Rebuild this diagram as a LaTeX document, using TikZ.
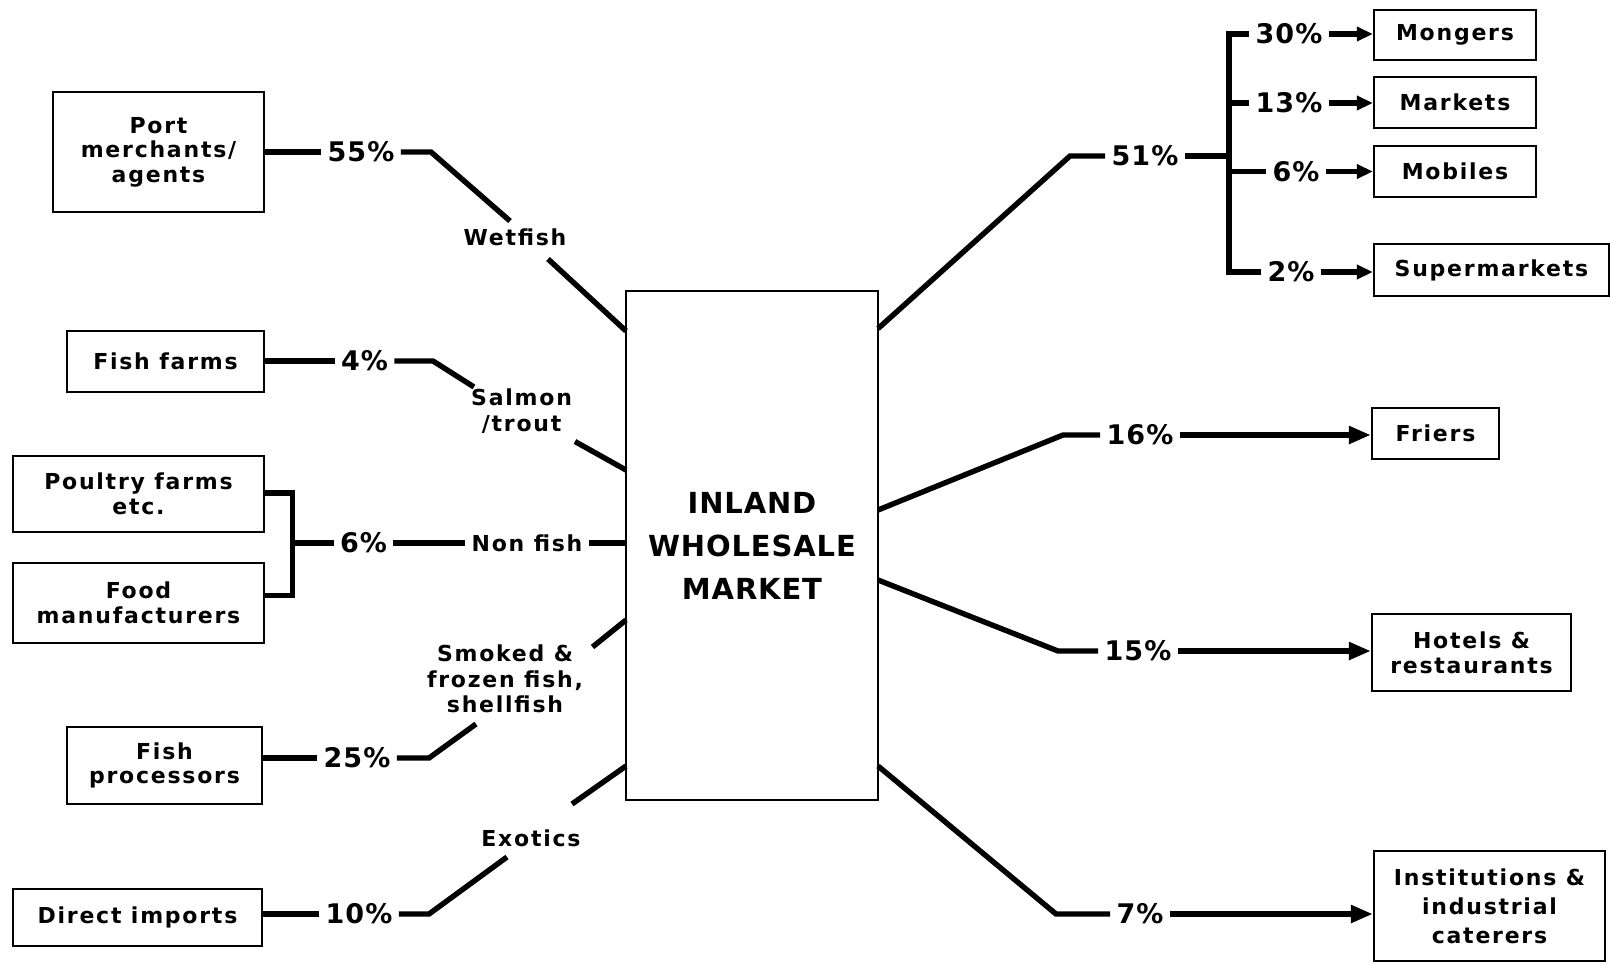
\documentclass[tikz,border=0pt]{standalone}
\usepackage{fontspec}
\setmainfont{DejaVu Sans}[LetterSpace=8]
\newfontfamily\pctfont{DejaVu Sans}[LetterSpace=4]
\newfontfamily\bigfont{DejaVu Sans}[LetterSpace=3]
\usetikzlibrary{arrows.meta}
\begin{document}
\begin{tikzpicture}[x=0.5pt,y=-0.5pt,
  box/.style={draw, line width=1.2pt, inner sep=0pt, align=center, font=\bfseries\fontsize{11}{12.3}\selectfont},
  pct/.style={inner sep=3pt, font=\pctfont\bfseries\fontsize{13.5}{14}\selectfont},
  lbl/.style={inner sep=3pt, align=center, font=\bfseries\fontsize{11}{12.8}\selectfont},
  conn/.style={line width=2.7pt},
  arr/.style={line width=2.7pt, -{Triangle[length=11pt,width=8.5pt]}},
  sarr/.style={line width=2.7pt, -{Triangle[length=8pt,width=7pt]}},
]
\useasboundingbox (0,0) rectangle (1610,964);

% ---- boxes, left
\node[box, minimum width=105.5pt, minimum height=60pt] (port) at (158.5,152) {Port\\merchants/\\agents};
\node[box, minimum width=98.5pt, minimum height=30.5pt] (ff) at (165.5,361.5) {Fish farms};
\node[box, minimum width=125.5pt, minimum height=38pt] (poultry) at (138.5,494) {Poultry farms\\etc.};
\node[box, minimum width=125.5pt, minimum height=40pt] (food) at (138.5,603) {Food\\manufacturers};
\node[box, minimum width=97.5pt, minimum height=38.5pt] (fp) at (164.5,765.5) {Fish\\processors};
\node[box, minimum width=124.5pt, minimum height=28.5pt] (di) at (137.5,917.5) {Direct imports};

% ---- central
\node[box, minimum width=126pt, minimum height=254.5pt, font=\bigfont\bfseries\fontsize{14.5}{21.5}\selectfont] (iwm) at (752,545.5) {INLAND\\WHOLESALE\\MARKET};

% ---- boxes, right
\node[box, minimum width=81pt, minimum height=25pt] (mongers) at (1455,35) {Mongers};
\node[box, minimum width=81pt, minimum height=25.5pt] (markets) at (1455,102.5) {Markets};
\node[box, minimum width=81pt, minimum height=25.5pt] (mobiles) at (1455,171.5) {Mobiles};
\node[box, minimum width=117.5pt, minimum height=26pt] (super) at (1491.5,270) {Supermarkets};
\node[box, minimum width=63.5pt, minimum height=25.5pt] (friers) at (1435.5,433.5) {Friers};
\node[box, minimum width=99.5pt, minimum height=38.5pt] (hotels) at (1471.5,652.5) {Hotels \&\\restaurants};
\node[box, minimum width=115.5pt, minimum height=55pt, font=\bfseries\fontsize{11}{14.4}\selectfont] (inst) at (1489.5,906) {Institutions \&\\industrial\\caterers};

% ---- percentages
\node[pct] (p55) at (361,152) {55\%};
\node[pct] (p4) at (364.5,361) {4\%};
\node[pct] (p6) at (363.5,543) {6\%};
\node[pct] (p25) at (357,758) {25\%};
\node[pct] (p10) at (359,914) {10\%};
\node[pct] (p51) at (1145,156) {51\%};
\node[pct] (p30) at (1289,34) {30\%};
\node[pct] (p13) at (1289,103) {13\%};
\node[pct] (p6b) at (1296,171.5) {6\%};
\node[pct] (p2) at (1291,272) {2\%};
\node[pct] (p16) at (1140,435) {16\%};
\node[pct] (p15) at (1138,651) {15\%};
\node[pct] (p7) at (1140,914) {7\%};

% ---- labels
\node[lbl] (wet) at (515,237) {Wetfish};
\node[lbl] (salmon) at (521.6,411) {Salmon\\/trout};
\node[lbl] (nonfish) at (527,543) {Non fish};
\node[lbl] (smoked) at (505,679) {Smoked \&\\frozen fish,\\shellfish};
\node[lbl] (exotics) at (531,838) {Exotics};

% ---- bend coordinates
\coordinate (w1) at (431,152);  \coordinate (w2) at (510,221);
\coordinate (w3) at (548,259);  \coordinate (w4) at (626,331);
\coordinate (s1) at (433,361);  \coordinate (s2) at (474,387);
\coordinate (s3) at (575,441.5);\coordinate (s4) at (626,470);
\coordinate (bt) at (292.6,493);\coordinate (bb) at (292.6,595.5);
\coordinate (bm) at (292.6,543);\coordinate (nf) at (626,543);
\coordinate (k1) at (626,620);  \coordinate (k2) at (592.5,647);
\coordinate (k3) at (476,724);  \coordinate (k4) at (429,758);
\coordinate (e1) at (626,766);  \coordinate (e2) at (572,804);
\coordinate (e3) at (507,857);  \coordinate (e4) at (429,914);
\coordinate (r1) at (878,328.6);\coordinate (r2) at (1070,156);
\coordinate (vt) at (1229,34);  \coordinate (vb) at (1229,272);
\coordinate (vm) at (1229,156);
\coordinate (f1) at (878,510);  \coordinate (f2) at (1063,435);
\coordinate (h1) at (878,580);  \coordinate (h2) at (1058,651);
\coordinate (i1) at (878,766);  \coordinate (i2) at (1056,914);

% ---- left connectors
\draw[conn] (port.east |- p55) -- (p55.west);
\draw[conn] (p55.east) -- (w1) -- (w2);
\draw[conn] (w3) -- (w4);
\draw[conn] (ff.east |- p4) -- (p4.west);
\draw[conn] (p4.east) -- (s1) -- (s2);
\draw[conn] (s3) -- (s4);
\draw[conn] (poultry.east |- bt) -- (bt) -- (bb) -- (food.east |- bb);
\draw[conn] (bm) -- (p6.west);
\draw[conn] (p6.east) -- (nonfish.west);
\draw[conn] (nonfish.east) -- (nf);
\draw[conn] (k1) -- (k2);
\draw[conn] (k3) -- (k4) -- (p25.east);
\draw[conn] (p25.west) -- (fp.east |- p25);
\draw[conn] (e1) -- (e2);
\draw[conn] (e3) -- (e4) -- (p10.east);
\draw[conn] (p10.west) -- (di.east |- p10);

% ---- right connectors
\draw[conn] (r1) -- (r2) -- (p51.west);
\draw[conn] (p51.east) -- (vm);
\draw[conn] (p30.west) -- (vt) -- (vb) -- (p2.west);
\draw[conn] (vt |- p13) -- (p13.west);
\draw[conn] (vt |- p6b) -- (p6b.west);
\draw[sarr] (p30.east) -- (mongers.west |- p30);
\draw[sarr] (p13.east) -- (markets.west |- p13);
\draw[sarr] (p6b.east) -- (mobiles.west |- p6b);
\draw[sarr] (p2.east) -- (super.west |- p2);
\draw[conn] (f1) -- (f2) -- (p16.west);
\draw[arr] (p16.east) -- (friers.west |- p16);
\draw[conn] (h1) -- (h2) -- (p15.west);
\draw[arr] (p15.east) -- (hotels.west |- p15);
\draw[conn] (i1) -- (i2) -- (p7.west);
\draw[arr] (p7.east) -- (inst.west |- p7);
\end{tikzpicture}
\end{document}
